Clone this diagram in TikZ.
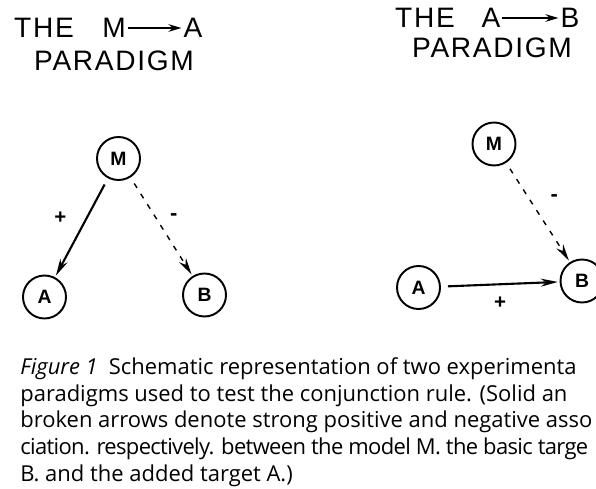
\documentclass[tikz,border=0pt]{standalone}
\usepackage{fontspec}
\setmainfont{Open Sans}
\newfontfamily\lettering[LetterSpace=6]{Liberation Sans}
\usetikzlibrary{arrows.meta,positioning}

\tikzset{
  circ/.style={draw, circle, line width=1.1pt, minimum size=0.86cm, inner sep=0pt,
    font=\lettering\bfseries\fontsize{11}{11}\selectfont},
  title/.style={font=\lettering\fontsize{16}{16}\selectfont, inner sep=1pt},
  titlearrow/.style={-{Stealth[length=2.6mm,width=1.5mm]}, line width=1.2pt},
  strong/.style={-{Stealth[length=3.4mm,width=1.6mm]}, line width=1.2pt,
    shorten <=4pt, shorten >=1pt},
  weak/.style={-{Stealth[length=3.4mm,width=1.6mm]}, line width=0.8pt,
    dash pattern=on 3pt off 4pt, shorten <=4pt, shorten >=1pt},
  sign/.style={font=\bfseries\large, inner sep=1pt},
  caption/.style={anchor=north west, inner sep=0pt, align=left,
    font=\fontsize{12.5}{15.3}\selectfont}
}

\begin{document}
\begin{tikzpicture}[x=0.2mm, y=-0.2mm]
\useasboundingbox (0,0) rectangle (596,489);
\clip (0,0) rectangle (596,489);

% M -> A paradigm
\node[title] (t1) at (44,28) {THE};
\node[title] (t1m) at (114,28) {M};
\node[title] (t1a) at (193,28) {A};
\node[title] (p1) at (114,61) {PARADIGM};
\draw[titlearrow] (t1m) -- (t1a);

\node[circ] (m1) at (118.5,158.5) {M};
\node[circ] (a1) at (44.5,297) {A};
\node[circ] (b1) at (204.5,295) {B};
\draw[strong] (m1) -- node[sign, pos=0.4, left=3.5mm] {+} (a1);
\draw[weak] (m1) -- node[sign, pos=0.4, right=2.5mm] {-} (b1);

% A -> B paradigm
\node[title] (t2) at (425,18) {THE};
\node[title] (t2a) at (491,18) {A};
\node[title] (t2b) at (570,18) {B};
\node[title] (p2) at (492,47.5) {PARADIGM};
\draw[titlearrow] (t2a) -- (t2b);

\node[circ] (m2) at (494,144) {M};
\node[circ] (a2) at (418.5,287.5) {A};
\node[circ] (b2) at (582,281) {B};
\draw[weak] (m2) -- node[sign, pos=0.35, right=4mm] {-} (b2);
\draw[strong] (a2) -- node[sign, below=2mm] {+} (b2);

% caption (cut at the right edge as printed)
\node[caption] (cap) at (20,357) {\textit{Figure 1}\enspace Schematic representation of two experimenta\\
paradigms used to test the conjunction rule. (Solid an\\
broken arrows denote strong positive and negative asso\\
{\addfontfeatures{LetterSpace=-3}ciation. respectively. between the model M. the basic targe}\\
B. and the added target A.)};
\end{tikzpicture}
\end{document}
